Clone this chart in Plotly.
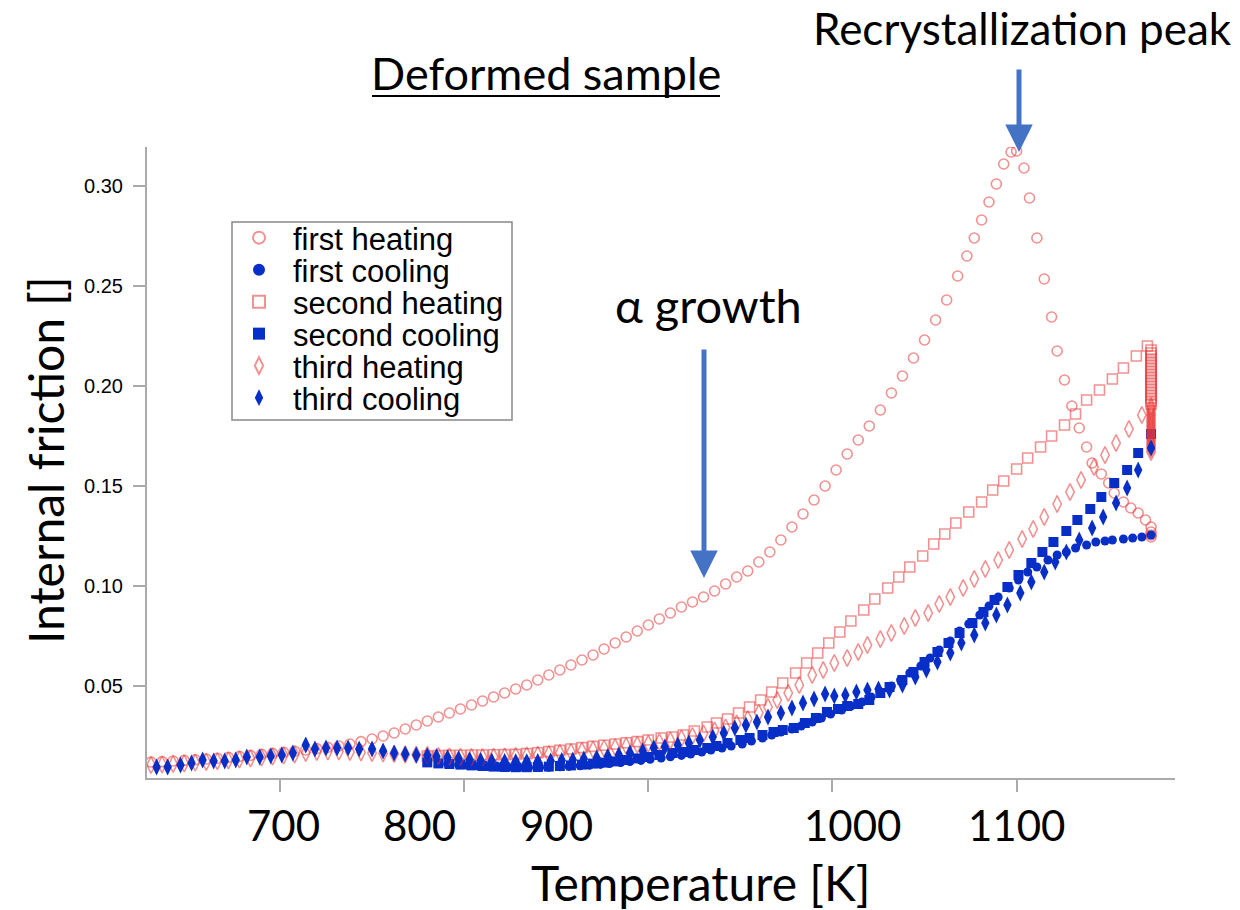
import plotly.graph_objects as go

# ---------------- data ----------------
fh_T = [630, 636, 642, 648, 654, 660, 666, 672, 678, 684, 690, 696, 702, 708, 714, 720, 726, 732,
        738, 744, 750, 756, 762, 768, 774, 780, 786, 792, 798, 804, 810, 816, 822, 828, 834, 840,
        846, 852, 858, 864, 870, 876, 882, 888, 894, 900, 906, 912, 918, 924, 930, 936, 942, 948,
        954, 960, 966, 972, 978, 984, 990, 996, 1002, 1008, 1014, 1020, 1026, 1032, 1038, 1044,
        1050, 1056, 1062, 1068, 1073, 1077, 1081, 1085, 1089, 1093, 1097, 1100, 1104, 1107, 1111,
        1115, 1119, 1122, 1126, 1130, 1134, 1138, 1141, 1146, 1150, 1153, 1158, 1162, 1166, 1170,
        1173, 1173, 1173, 1173]
fh_Q = [0.0120, 0.0122, 0.0125, 0.0128, 0.0131, 0.0135, 0.0139, 0.0143, 0.0148, 0.0153, 0.0158,
        0.0163, 0.0168, 0.0174, 0.0180, 0.0187, 0.0193, 0.0200, 0.0210, 0.0222, 0.0235, 0.0250,
        0.0265, 0.0285, 0.0305, 0.0325, 0.0345, 0.0365, 0.0385, 0.0405, 0.0425, 0.0445, 0.0465,
        0.0485, 0.0505, 0.0530, 0.0555, 0.0580, 0.0605, 0.0630, 0.0655, 0.0685, 0.0715, 0.0745,
        0.0775, 0.0805, 0.0835, 0.0865, 0.0895, 0.0920, 0.0945, 0.0975, 0.1010, 0.1045, 0.1075,
        0.1120, 0.1170, 0.1230, 0.1295, 0.1360, 0.1430, 0.1500, 0.1580, 0.1660, 0.1730, 0.1800,
        0.1880, 0.1965, 0.2050, 0.2140, 0.2230, 0.2330, 0.2430, 0.2550, 0.2650, 0.2740, 0.2830,
        0.2920, 0.3010, 0.3110, 0.3170, 0.3175, 0.3090, 0.2940, 0.2740, 0.2535, 0.2345, 0.2175,
        0.2030, 0.1900, 0.1790, 0.1695, 0.1615, 0.1560, 0.1515, 0.1465, 0.1420, 0.1390, 0.1365,
        0.1330, 0.1295, 0.1270, 0.1255, 0.1245]

fc_T = [1173, 1168, 1163, 1158, 1152, 1148, 1143, 1138, 1132, 1127, 1122, 1117, 1111, 1106, 1101,
        1096, 1090, 1085, 1080, 1074, 1069, 1064, 1058, 1053, 1048, 1042, 1037, 1032, 1026, 1021,
        1016, 1010, 1005, 999, 994, 989, 983, 978, 972, 967, 962, 956, 951, 945, 940, 934, 929,
        923, 918, 912, 907, 901, 896, 890, 885, 879, 874, 868, 863, 857, 852, 846, 841, 835, 830,
        824, 819, 813, 808, 802, 797, 791, 786, 780]
fc_Q = [0.1255, 0.1245, 0.1240, 0.1235, 0.1230, 0.1225, 0.1220, 0.1205, 0.1190, 0.1170, 0.1155,
        0.1130, 0.1095, 0.1070, 0.1030, 0.0990, 0.0945, 0.0900, 0.0855, 0.0810, 0.0775, 0.0725,
        0.0680, 0.0640, 0.0600, 0.0565, 0.0530, 0.0500, 0.0470, 0.0445, 0.0420, 0.0400, 0.0380,
        0.0360, 0.0340, 0.0320, 0.0300, 0.0285, 0.0270, 0.0255, 0.0240, 0.0225, 0.0210, 0.0200,
        0.0190, 0.0180, 0.0170, 0.0160, 0.0153, 0.0146, 0.0140, 0.0134, 0.0128, 0.0122, 0.0117,
        0.0112, 0.0108, 0.0104, 0.0101, 0.0098, 0.0096, 0.0094, 0.0093, 0.0092, 0.0092, 0.0093,
        0.0095, 0.0097, 0.0100, 0.0103, 0.0106, 0.0110, 0.0114, 0.0120]

sh_T = [780, 786, 792, 798, 804, 810, 816, 822, 828, 834, 840, 846, 852, 858, 864, 870, 876, 882,
        888, 894, 900, 907, 913, 919, 925, 932, 937, 943, 949, 955, 961, 967, 973, 980, 986, 992,
        998, 1004, 1010, 1017, 1023, 1030, 1036, 1042, 1049, 1055, 1061, 1067, 1074, 1081, 1087,
        1093, 1100, 1106, 1113, 1119, 1126, 1132, 1138, 1145, 1152, 1158, 1165, 1171,
        1173, 1173, 1173, 1173, 1173, 1173, 1173, 1173, 1173, 1173, 1173, 1173, 1173, 1173, 1173,
        1173, 1173, 1173, 1173]
sh_Q = [0.0150, 0.0152, 0.0153, 0.0154, 0.0155, 0.0155, 0.0156, 0.0157, 0.0158, 0.0162, 0.0166,
        0.0172, 0.0178, 0.0185, 0.0192, 0.0198, 0.0204, 0.0210, 0.0216, 0.0222, 0.0230, 0.0240,
        0.0245, 0.0255, 0.0275, 0.0295, 0.0315, 0.0335, 0.0365, 0.0395, 0.0430, 0.0470, 0.0515,
        0.0565, 0.0615, 0.0665, 0.0715, 0.0770, 0.0825, 0.0880, 0.0935, 0.0990, 0.1045, 0.1095,
        0.1150, 0.1210, 0.1260, 0.1315, 0.1370, 0.1420, 0.1480, 0.1525, 0.1585, 0.1640, 0.1695,
        0.1750, 0.1805, 0.1860, 0.1930, 0.1980, 0.2035, 0.2090, 0.2150, 0.2200,
        0.2180, 0.2165, 0.2150, 0.2135, 0.2120, 0.2105, 0.2090, 0.2075, 0.2060, 0.2045, 0.2030,
        0.2015, 0.2000, 0.1985, 0.1970, 0.1955, 0.1940, 0.1925, 0.1910]

sc_T = [1173, 1166, 1160, 1153, 1146, 1140, 1133, 1127, 1120, 1114, 1108, 1101, 1095, 1088, 1082,
        1076, 1069, 1063, 1057, 1050, 1044, 1038, 1031, 1026, 1020, 1014, 1008, 1003, 997, 991,
        985, 979, 973, 968, 962, 955, 950, 943, 937, 932, 925, 919, 913, 906, 900, 894, 888, 882,
        876, 870, 864, 858, 852, 846, 840, 834, 828, 822, 816, 810, 804, 798, 792, 786, 780]
sc_Q = [0.1760, 0.1665, 0.1580, 0.1515, 0.1445, 0.1385, 0.1330, 0.1275, 0.1220, 0.1170, 0.1115,
        0.1055, 0.0995, 0.0930, 0.0870, 0.0815, 0.0765, 0.0715, 0.0670, 0.0620, 0.0570, 0.0530,
        0.0495, 0.0465, 0.0430, 0.0410, 0.0400, 0.0385, 0.0370, 0.0340, 0.0315, 0.0290, 0.0280,
        0.0270, 0.0255, 0.0240, 0.0230, 0.0215, 0.0200, 0.0190, 0.0180, 0.0170, 0.0165, 0.0155,
        0.0145, 0.0138, 0.0130, 0.0123, 0.0117, 0.0112, 0.0107, 0.0103, 0.0100, 0.0097, 0.0095,
        0.0094, 0.0094, 0.0095, 0.0097, 0.0100, 0.0103, 0.0107, 0.0110, 0.0113, 0.0118]

th_T = [630, 636, 642, 648, 654, 660, 666, 672, 678, 684, 690, 696, 702, 708, 714, 720, 726, 732,
        738, 744, 750, 756, 762, 768, 774, 780, 786, 792, 798, 804, 810, 816, 822, 828, 834, 840,
        846, 852, 858, 864, 870, 876, 882, 888, 894, 900, 906, 912, 918, 924, 930, 936, 942, 948,
        954, 960, 965, 970, 976, 982, 989, 995, 1001, 1008, 1014, 1019, 1026, 1032, 1039, 1045,
        1052, 1058, 1064, 1071, 1077, 1083, 1090, 1096, 1103, 1109, 1115, 1122, 1129, 1135, 1142,
        1148, 1154, 1161, 1168,
        1173, 1173, 1173, 1173, 1173, 1173, 1173, 1173, 1173, 1173, 1173, 1173, 1173, 1173, 1173,
        1173, 1173, 1173, 1173, 1173]
th_Q = [0.0105, 0.0108, 0.0110, 0.0113, 0.0117, 0.0120, 0.0124, 0.0128, 0.0132, 0.0137, 0.0142,
        0.0147, 0.0152, 0.0158, 0.0165, 0.0170, 0.0172, 0.0172, 0.0170, 0.0168, 0.0165, 0.0162,
        0.0160, 0.0158, 0.0156, 0.0155, 0.0150, 0.0148, 0.0146, 0.0145, 0.0145, 0.0146, 0.0148,
        0.0150, 0.0153, 0.0156, 0.0160, 0.0165, 0.0170, 0.0176, 0.0182, 0.0188, 0.0194, 0.0200,
        0.0206, 0.0212, 0.0220, 0.0228, 0.0238, 0.0250, 0.0263, 0.0277, 0.0293, 0.0312, 0.0335,
        0.0365, 0.0395, 0.0430, 0.0465, 0.0505, 0.0555, 0.0580, 0.0615, 0.0640, 0.0670, 0.0705,
        0.0735, 0.0765, 0.0800, 0.0840, 0.0865, 0.0910, 0.0945, 0.0990, 0.1035, 0.1085, 0.1130,
        0.1180, 0.1235, 0.1285, 0.1345, 0.1410, 0.1470, 0.1530, 0.1595, 0.1655, 0.1715, 0.1785,
        0.1855,
        0.1900, 0.1888, 0.1876, 0.1864, 0.1852, 0.1840, 0.1828, 0.1816, 0.1804, 0.1792, 0.1780,
        0.1768, 0.1756, 0.1744, 0.1732, 0.1720, 0.1708, 0.1696, 0.1684, 0.1670]

tc_T = [1173, 1166, 1160, 1154, 1147, 1141, 1134, 1127, 1121, 1115, 1108, 1102, 1095, 1089, 1083,
        1077, 1070, 1064, 1057, 1051, 1045, 1038, 1031, 1025, 1019, 1013, 1007, 1001, 996, 990,
        984, 978, 972, 965, 959, 953, 947, 941, 935, 928, 922, 916, 909, 903, 897, 890, 884, 878,
        872, 865, 859, 853, 847, 840, 834, 828, 822, 815, 809, 803, 797, 791, 785, 780, 774, 768,
        762, 756, 750, 743, 737, 731, 725, 719, 714, 707, 701, 695, 689, 682, 676, 670, 664, 658,
        652, 646, 639, 633]
tc_Q = [0.1690, 0.1580, 0.1490, 0.1415, 0.1345, 0.1290, 0.1230, 0.1170, 0.1120, 0.1070, 0.1020,
        0.0965, 0.0905, 0.0855, 0.0815, 0.0755, 0.0715, 0.0665, 0.0620, 0.0580, 0.0545, 0.0505,
        0.0480, 0.0485, 0.0480, 0.0470, 0.0455, 0.0450, 0.0460, 0.0435, 0.0415, 0.0390, 0.0365,
        0.0345, 0.0320, 0.0305, 0.0290, 0.0265, 0.0245, 0.0230, 0.0215, 0.0205, 0.0195, 0.0190,
        0.0175, 0.0165, 0.0155, 0.0148, 0.0140, 0.0135, 0.0130, 0.0128, 0.0125, 0.0123, 0.0122,
        0.0122, 0.0123, 0.0125, 0.0128, 0.0132, 0.0137, 0.0142, 0.0148, 0.0152, 0.0155, 0.0160,
        0.0165, 0.0175, 0.0185, 0.0185, 0.0190, 0.0190, 0.0190, 0.0185, 0.0205, 0.0165, 0.0155,
        0.0150, 0.0145, 0.0145, 0.0130, 0.0125, 0.0125, 0.0130, 0.0115, 0.0105, 0.0095, 0.0095]

series_names = ["first heating", "first cooling", "second heating", "second cooling",
                "third heating", "third cooling"]

x_tick_vals = [700, 800, 900, 1000, 1100]
x_tick_text = ["700", "800", "900", "1000", "1100"]
y_tick_vals = [0.05, 0.10, 0.15, 0.20, 0.25, 0.30]
y_tick_text = ["0.05", "0.10", "0.15", "0.20", "0.25", "0.30"]

# ---------------- styling ----------------
RED = "rgba(232,55,55,0.55)"
BLUE = "rgb(8,46,200)"
W, H = 1240, 910
ML, MR, MT, MB = 147, 65, 147, 132
PW, PH = W - ML - MR, H - MT - MB
BIG_FONT = "Lato"
HELV = "Liberation Sans, Arial, sans-serif"


def px(xp, yp):
    """pixel position -> paper coordinates (for annotations only)"""
    return (xp - ML) / PW, (H - MB - yp) / PH


fig = go.Figure()
specs = [
    (fh_T, fh_Q, "circle-open", RED, 10),
    (fc_T, fc_Q, "circle", BLUE, 9),
    (sh_T, sh_Q, "square-open", RED, 10),
    (sc_T, sc_Q, "square", BLUE, 10),
    (th_T, th_Q, "diamond-tall-open", RED, 12),
    (tc_T, tc_Q, "diamond-tall", BLUE, 12),
]
legend_keys = ["legend"] + ["legend%d" % i for i in range(2, 7)]
for name, key, (xs, ys, sym, col, sz) in zip(series_names, legend_keys, specs):
    fig.add_trace(go.Scatter(
        x=xs, y=ys, mode="markers", name=name, legend=key,
        marker=dict(symbol=sym, size=sz, color=col,
                    line=dict(width=1.6 if "open" in sym else 0, color=col)),
    ))

layout = dict(
    width=W, height=H,
    margin=dict(l=ML, r=MR, t=MT, b=MB),
    paper_bgcolor="white", plot_bgcolor="white",
    font=dict(family=HELV, color="black"),
    showlegend=True,
    xaxis=dict(
        range=[627.8, 1186], showgrid=False, zeroline=False,
        showline=True, linecolor="#aaaaaa", linewidth=2, mirror=False,
        ticks="outside", ticklen=12, tickwidth=2, tickcolor="#aaaaaa",
        tickvals=x_tick_vals, ticktext=x_tick_text, showticklabels=False,
    ),
    yaxis=dict(
        range=[0.004, 0.3195], showgrid=False, zeroline=False,
        showline=True, linecolor="#aaaaaa", linewidth=2,
        ticks="outside", ticklen=12, tickwidth=2, tickcolor="#aaaaaa",
        tickvals=y_tick_vals, ticktext=y_tick_text,
        tickfont=dict(family=HELV, size=20, color="#000"),
        ticklabelstandoff=6,
    ),
)
# one legend per entry, so that the entries sit as tightly as in the reference
entry_y = [238, 270, 302, 334, 366, 398]
for key, yc in zip(legend_keys, entry_y):
    lx, ly = px(225, yc)
    layout[key] = dict(x=lx, y=ly, xanchor="left", yanchor="middle",
                       bgcolor="rgba(0,0,0,0)", borderwidth=0, itemwidth=58,
                       itemsizing="constant",
                       font=dict(family=HELV, size=31, color="black"))
fig.update_layout(**layout)

# legend frame
bx0, by0 = px(232, 222)
bx1, by1 = px(512, 420)
fig.add_shape(type="rect", xref="paper", yref="paper", x0=bx0, x1=bx1, y0=by1, y1=by0,
              line=dict(color="#888", width=1.5), fillcolor="white", layer="above")

# big tick labels as overlaid in the reference
label_px = [283, 419, 556, 852, 1016]
for txt, xp in zip(x_tick_text, label_px):
    xx, yy = px(xp, 825)
    fig.add_annotation(x=xx, y=yy, xref="paper", yref="paper", text=txt, showarrow=False,
                       font=dict(family=BIG_FONT, size=42, color="black"),
                       xanchor="center", yanchor="middle")

# axis titles
xx, yy = px(700, 882)
fig.add_annotation(x=xx, y=yy, xref="paper", yref="paper", text="Temperature [K]",
                   showarrow=False, font=dict(family=BIG_FONT, size=48, color="black"),
                   xanchor="center", yanchor="middle")
xx, yy = px(45, 460)
fig.add_annotation(x=xx, y=yy, xref="paper", yref="paper", text="Internal friction []",
                   showarrow=False, textangle=-90,
                   font=dict(family=BIG_FONT, size=48, color="black"),
                   xanchor="center", yanchor="middle")

# header texts
xx, yy = px(546, 73)
fig.add_annotation(x=xx, y=yy, xref="paper", yref="paper", text="Deformed sample",
                   showarrow=False, font=dict(family=BIG_FONT, size=45, color="black"),
                   xanchor="center", yanchor="middle")
x0, y0 = px(372, 96)
x1, _ = px(720, 96)
fig.add_shape(type="line", xref="paper", yref="paper", x0=x0, x1=x1, y0=y0, y1=y0,
              line=dict(color="black", width=2))
xx, yy = px(1022, 28)
fig.add_annotation(x=xx, y=yy, xref="paper", yref="paper", text="Recrystallization peak",
                   showarrow=False, font=dict(family=BIG_FONT, size=44, color="black"),
                   xanchor="center", yanchor="middle")
xx, yy = px(708, 305)
fig.add_annotation(x=xx, y=yy, xref="paper", yref="paper", text="α growth",
                   showarrow=False, font=dict(family=BIG_FONT, size=47, color="black"),
                   xanchor="center", yanchor="middle")

# arrows
for tip, tail_y in [((1019, 152), 68), ((704, 578), 348)]:
    xx, yy = px(*tip)
    fig.add_annotation(x=xx, y=yy, xref="paper", yref="paper", text="", showarrow=True,
                       ax=0, ay=tail_y - tip[1], arrowhead=2, arrowsize=1.1,
                       arrowwidth=5, arrowcolor="#4472C4", standoff=0)

fig.write_html("out.html", config={"displayModeBar": False},
               post_script="document.body.style.margin='0';")
